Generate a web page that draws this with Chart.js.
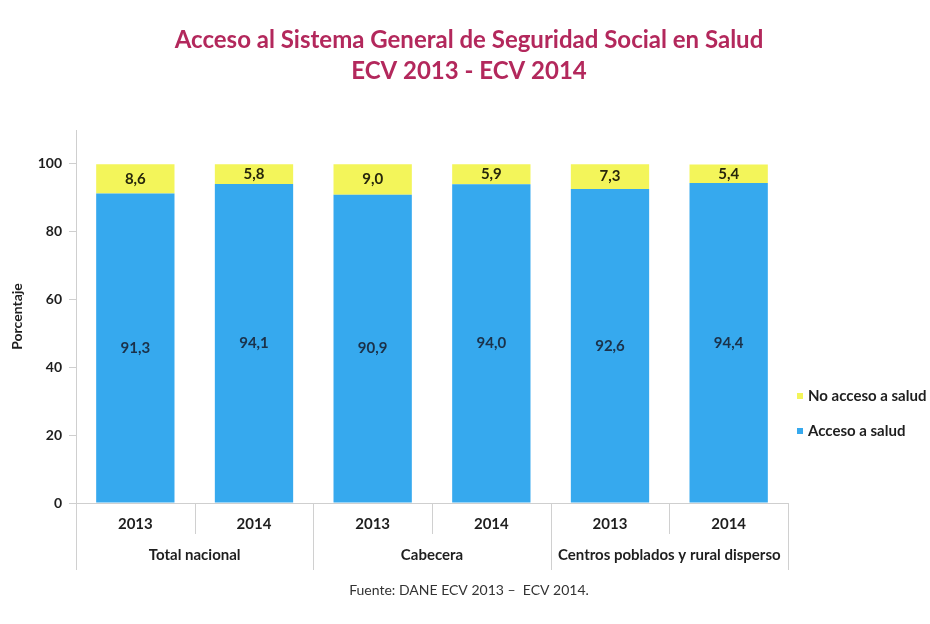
<!DOCTYPE html>
<html lang="es">
<head>
<meta charset="utf-8">
<title>Acceso al SGSSS</title>
<script src="https://cdn.jsdelivr.net/npm/chart.js@4/dist/chart.umd.min.js"></script>
<style>
  html, body { margin: 0; padding: 0; background: #fff; }
  #wrap { position: relative; width: 930px; height: 624px; }
</style>
</head>
<body>
<div id="wrap"><canvas id="saludChart" width="930" height="624"></canvas></div>
<script>
// Datos ECV 2013 - 2014
const years = ["2013", "2014", "2013", "2014", "2013", "2014"];
const groups = ["Total nacional", "Cabecera", "Centros poblados y rural disperso"];
const acceso = [91.3, 94.1, 90.9, 94.0, 92.6, 94.4];
const noAcceso = [8.6, 5.8, 9.0, 5.9, 7.3, 5.4];
const yTicks = [0, 20, 40, 60, 80, 100];
const titleLines = ["Acceso al Sistema General de Seguridad Social en Salud", "ECV 2013 - ECV 2014"];
const sourceNote = "Fuente: DANE ECV 2013 –  ECV 2014.";

const FONT = "Lato, 'Open Sans', sans-serif";
const BLUE = "#36a9ee";
const YELLOW = "#f3f55a";
const INK = "#1e1e1e";

const fmt = v => v.toFixed(1).replace(".", ",");

/* ---- title and source, centred on the whole canvas ---- */
const headerFooter = {
  id: "headerFooter",
  afterDraw(chart) {
    const { ctx, width } = chart;
    const cx = width / 2 + 4;
    ctx.save();
    ctx.textAlign = "center";
    ctx.textBaseline = "middle";
    ctx.fillStyle = "#b3285c";
    ctx.font = "bold 24px " + FONT;
    titleLines.forEach((t, i) => ctx.fillText(t, cx, 40 + i * 31));
    ctx.fillStyle = "#333";
    ctx.font = "14px " + FONT;
    ctx.fillText(sourceNote, cx, 590);
    ctx.restore();
  }
};

/* ---- value labels centred in each segment ---- */
const segmentLabels = {
  id: "segmentLabels",
  afterDatasetsDraw(chart) {
    const { ctx } = chart;
    ctx.save();
    ctx.font = "bold 15px " + FONT;
    ctx.textAlign = "center";
    ctx.textBaseline = "middle";
    chart.data.datasets.forEach((ds, di) => {
      chart.getDatasetMeta(di).data.forEach((bar, i) => {
        ctx.fillStyle = di === 0 ? "#1b3149" : "#26260c";
        ctx.fillText(fmt(ds.data[i]), bar.x, (bar.y + bar.base) / 2);
      });
    });
    ctx.restore();
  }
};

/* ---- two-level category axis: separators + group names ---- */
const groupAxis = {
  id: "groupAxis",
  afterDraw(chart) {
    const { ctx, chartArea } = chart;
    const xs = chart.scales.x;
    const step = xs.getPixelForValue(1) - xs.getPixelForValue(0);
    const bottom = chartArea.bottom;
    ctx.save();
    ctx.strokeStyle = "#d0d0d0";
    ctx.lineWidth = 1;
    for (let i = 0; i <= years.length; i++) {
      const x = Math.round(xs.getPixelForValue(0) - step / 2 + i * step) + 0.5;
      ctx.beginPath();
      ctx.moveTo(x, bottom);
      ctx.lineTo(x, bottom + (i % 2 === 0 ? 67 : 31));
      ctx.stroke();
    }
    ctx.font = "bold 15px " + FONT;
    ctx.fillStyle = INK;
    ctx.textAlign = "center";
    ctx.textBaseline = "middle";
    groups.forEach((g, gi) => {
      const x = (xs.getPixelForValue(gi * 2) + xs.getPixelForValue(gi * 2 + 1)) / 2;
      ctx.fillText(g, x, bottom + 52);
    });
    ctx.restore();
  }
};

/* ---- legend to the right of the plot ---- */
const sideLegend = {
  id: "sideLegend",
  afterDraw(chart) {
    const { ctx, chartArea } = chart;
    const items = chart.data.datasets.slice().reverse();
    ctx.save();
    ctx.font = "bold 15px " + FONT;
    ctx.textBaseline = "middle";
    items.forEach((ds, k) => {
      const y = 396 + k * 35;
      const x = chartArea.right + 9;
      ctx.fillStyle = ds.backgroundColor;
      ctx.fillRect(x, y - 3, 6, 6);
      ctx.fillStyle = INK;
      ctx.fillText(ds.label, x + 11, y);
    });
    ctx.restore();
  }
};

const ctx = document.getElementById("saludChart");
new Chart(ctx, {
  type: "bar",
  data: {
    labels: years,
    datasets: [
      { label: "Acceso a salud", data: acceso, backgroundColor: BLUE },
      { label: "No acceso a salud", data: noAcceso, backgroundColor: YELLOW }
    ]
  },
  options: {
    responsive: false,
    animation: false,
    datasets: { bar: { categoryPercentage: 1, barPercentage: 0.66 } },
    layout: { padding: { left: 0, right: 142, top: 130, bottom: 33 } },
    plugins: {
      legend: { display: false },
      tooltip: { enabled: false }
    },
    scales: {
      x: {
        stacked: true,
        grid: { display: false },
        border: { color: "#cfcfcf" },
        ticks: { color: INK, font: { family: FONT, size: 15, weight: "bold" }, padding: 4 },
        afterFit(scale) { scale.height = 88; }
      },
      y: {
        stacked: true,
        min: 0,
        max: 110,
        afterBuildTicks(scale) { scale.ticks = yTicks.map(v => ({ value: v })); },
        afterFit(scale) { scale.width = 76; scale.paddingTop = 0; scale.paddingBottom = 0; },
        grid: { drawOnChartArea: false, tickLength: 7, color: "#cfcfcf" },
        border: { color: "#cfcfcf" },
        ticks: { color: INK, font: { family: FONT, size: 14, weight: "bold" }, padding: 7 },
        title: {
          display: true,
          text: "Porcentaje",
          color: INK,
          font: { family: FONT, size: 14, weight: "bold" },
          padding: { top: 9, bottom: 0 }
        }
      }
    }
  },
  plugins: [headerFooter, segmentLabels, groupAxis, sideLegend]
});
</script>
</body>
</html>
